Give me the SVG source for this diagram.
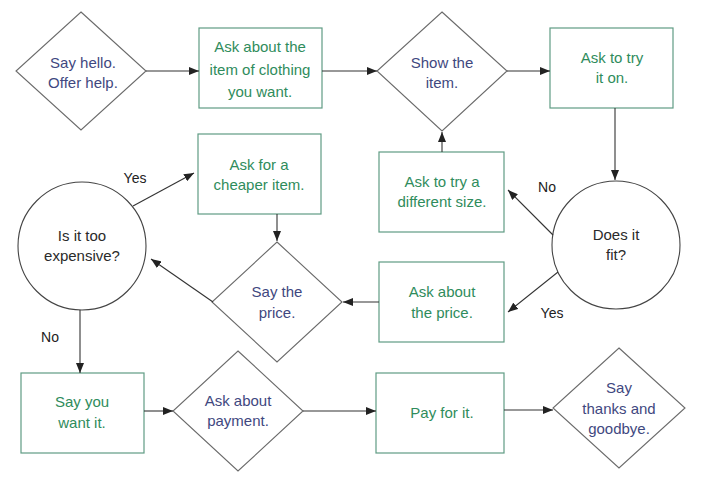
<svg xmlns="http://www.w3.org/2000/svg" width="704" height="486" viewBox="0 0 704 486">
<style>
.box{fill:#fff;stroke:#5f9c84;stroke-width:1.2}
.dia{fill:#fff;stroke:#6a6a6a;stroke-width:1.1}
.cir{fill:#fff;stroke:#444;stroke-width:1.1}
text{font-family:"Liberation Sans",Arial,sans-serif;font-size:15px;text-anchor:middle}
.g{fill:#2f8c5c}
.b{fill:#3f4880}
.k{fill:#2a2a2a}
.lbl{fill:#222;font-size:14px}
.con line{stroke:#333;stroke-width:1.1;marker-end:url(#ah)}
</style>
<defs>
<marker id="ah" viewBox="0 0 10 8" refX="10" refY="4" markerWidth="10" markerHeight="8" markerUnits="userSpaceOnUse" orient="auto">
<path d="M0,0 L10,4 L0,8 Z" fill="#222"/>
</marker>
</defs>
<rect width="704" height="486" fill="#fff"/>

<g id="n1"><polygon class="dia" points="81,12 146,71 81,130 16,71"/>
<text class="b" x="83" y="68">Say hello.</text><text class="b" x="83" y="88">Offer help.</text></g>

<g id="n2"><rect class="box" x="199" y="28" width="123" height="80"/>
<text class="g" x="260" y="52">Ask about the</text><text class="g" x="260" y="75">item of clothing</text><text class="g" x="260" y="97">you want.</text></g>

<g id="n3"><polygon class="dia" points="442,12 507,71 442,131 377,71"/>
<text class="b" x="442" y="68">Show the</text><text class="b" x="442" y="88">item.</text></g>

<g id="n4"><rect class="box" x="550" y="28" width="123" height="80"/>
<text class="g" x="612" y="63">Ask to try</text><text class="g" x="612" y="83">it on.</text></g>

<g id="n5"><circle class="cir" cx="616" cy="245" r="64"/>
<text class="k" x="616" y="240">Does it</text><text class="k" x="616" y="260">fit?</text></g>

<g id="n6"><rect class="box" x="379" y="152" width="125" height="80"/>
<text class="g" x="442" y="187">Ask to try a</text><text class="g" x="442" y="207">different size.</text></g>

<g id="n7"><rect class="box" x="379" y="262" width="125" height="80"/>
<text class="g" x="442" y="297">Ask about</text><text class="g" x="442" y="318">the price.</text></g>

<g id="n8"><polygon class="dia" points="277,242 342,302 277,362 212,302"/>
<text class="b" x="277" y="297">Say the</text><text class="b" x="277" y="318">price.</text></g>

<g id="n9"><rect class="box" x="198" y="134" width="123" height="80"/>
<text class="g" x="259" y="170">Ask for a</text><text class="g" x="259" y="190">cheaper item.</text></g>

<g id="n10"><circle class="cir" cx="82" cy="246" r="64"/>
<text class="k" x="82" y="241">Is it too</text><text class="k" x="82" y="261">expensive?</text></g>

<g id="n11"><rect class="box" x="21" y="373" width="123" height="80"/>
<text class="g" x="82" y="407">Say you</text><text class="g" x="82" y="428">want it.</text></g>

<g id="n12"><polygon class="dia" points="238,351 303,411 238,471 173,411"/>
<text class="b" x="238" y="406">Ask about</text><text class="b" x="238" y="426">payment.</text></g>

<g id="n13"><rect class="box" x="376" y="373" width="128" height="80"/>
<text class="g" x="442" y="418">Pay for it.</text></g>

<g id="n14"><polygon class="dia" points="619,348 685,408 619,468 553,408"/>
<text class="b" x="619" y="393">Say</text><text class="b" x="619" y="414">thanks and</text><text class="b" x="619" y="434">goodbye.</text></g>

<g id="connectors" class="con">
<line x1="146" y1="71" x2="199" y2="71"/>
<line x1="322" y1="71" x2="377" y2="71"/>
<line x1="507" y1="71" x2="550" y2="71"/>
<line x1="615" y1="108" x2="615" y2="180"/>
<line x1="442" y1="152" x2="442" y2="132"/>
<line x1="553" y1="235" x2="508" y2="190"/>
<line x1="558" y1="272" x2="508" y2="312"/>
<line x1="379" y1="302" x2="343" y2="302"/>
<line x1="277" y1="214" x2="277" y2="241"/>
<line x1="213" y1="302" x2="151" y2="259"/>
<line x1="133" y1="206" x2="194" y2="173"/>
<line x1="80" y1="310" x2="80" y2="373"/>
<line x1="144" y1="411" x2="173" y2="411"/>
<line x1="303" y1="411" x2="376" y2="411"/>
<line x1="504" y1="410" x2="553" y2="410"/>
</g>
<g id="labels">
<text class="lbl" x="547" y="192">No</text>
<text class="lbl" x="552" y="318">Yes</text>
<text class="lbl" x="135" y="183">Yes</text>
<text class="lbl" x="50" y="342">No</text>
</g>
</svg>
